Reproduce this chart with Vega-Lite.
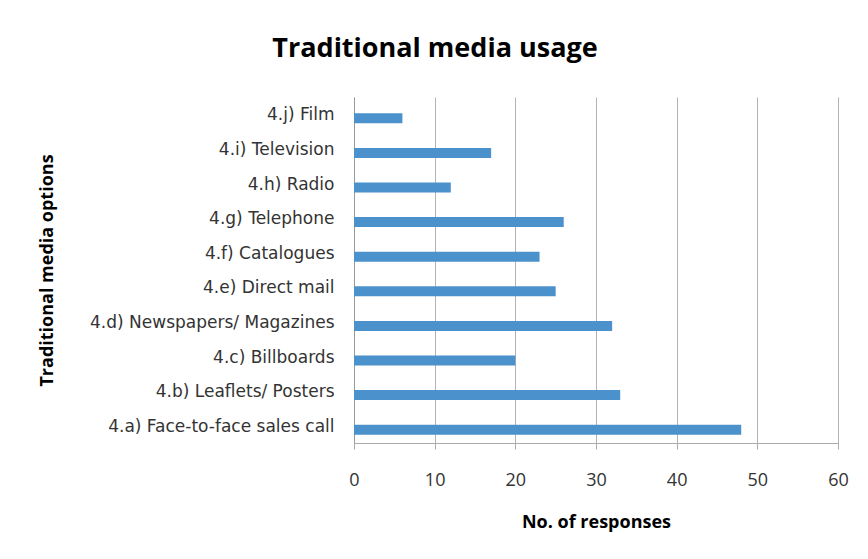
{
  "$schema": "https://vega.github.io/schema/vega-lite/v6.json",
  "width": 484,
  "height": 346,
  "autosize": {"type": "none"},
  "padding": {"left": 354, "top": 97, "right": 30, "bottom": 116},
  "background": "white",
  "title": {
    "text": "Traditional media usage",
    "anchor": "middle",
    "frame": "group",
    "dx": -161,
    "offset": 34,
    "font": "Open Sans",
    "fontSize": 27,
    "fontWeight": "bold",
    "color": "#000000"
  },
  "config": {
    "view": {"stroke": null},
    "font": "Open Sans"
  },
  "data": {
    "values": [
      {"option": "4.j) Film", "responses": 6},
      {"option": "4.i) Television", "responses": 17},
      {"option": "4.h) Radio", "responses": 12},
      {"option": "4.g) Telephone", "responses": 26},
      {"option": "4.f) Catalogues", "responses": 23},
      {"option": "4.e) Direct mail", "responses": 25},
      {"option": "4.d) Newspapers/ Magazines", "responses": 32},
      {"option": "4.c) Billboards", "responses": 20},
      {"option": "4.b) Leaflets/ Posters", "responses": 33},
      {"option": "4.a) Face-to-face sales call", "responses": 48}
    ]
  },
  "mark": {"type": "bar", "color": "#4B92CC", "size": 10, "yOffset": 4},
  "encoding": {
    "y": {
      "field": "option",
      "type": "nominal",
      "sort": null,
      "axis": {
        "title": "Traditional media options",
        "titleFont": "Open Sans",
        "titleFontSize": 18,
        "titleFontWeight": "bold",
        "titleColor": "#000000",
        "titleX": -307,
        "titleY": 173,
        "titleAngle": -90,
        "titleAlign": "center",
        "titleBaseline": "middle",
        "labelFont": "DejaVu Sans",
        "labelFontSize": 17,
        "labelColor": "#333333",
        "labelPadding": 20,
        "labelLimit": 400,
        "ticks": false,
        "domainColor": "#999999",
        "labelOffset": 1
      }
    },
    "x": {
      "field": "responses",
      "type": "quantitative",
      "scale": {"domain": [0, 60], "nice": false},
      "axis": {
        "values": [0, 10, 20, 30, 40, 50, 60],
        "title": "No. of responses",
        "titleFont": "Open Sans",
        "titleFontSize": 18,
        "titleFontWeight": "bold",
        "titleColor": "#000000",
        "titleY": 79,
        "titleBaseline": "middle",
        "labelFont": "Open Sans",
        "labelFontSize": 18,
        "labelColor": "#333333",
        "labelPadding": 22,
        "labelFlush": false,
        "grid": true,
        "gridColor": "#b3b3b3",
        "domainColor": "#aaaaaa",
        "tickColor": "#aaaaaa",
        "tickSize": 6
      }
    }
  }
}
